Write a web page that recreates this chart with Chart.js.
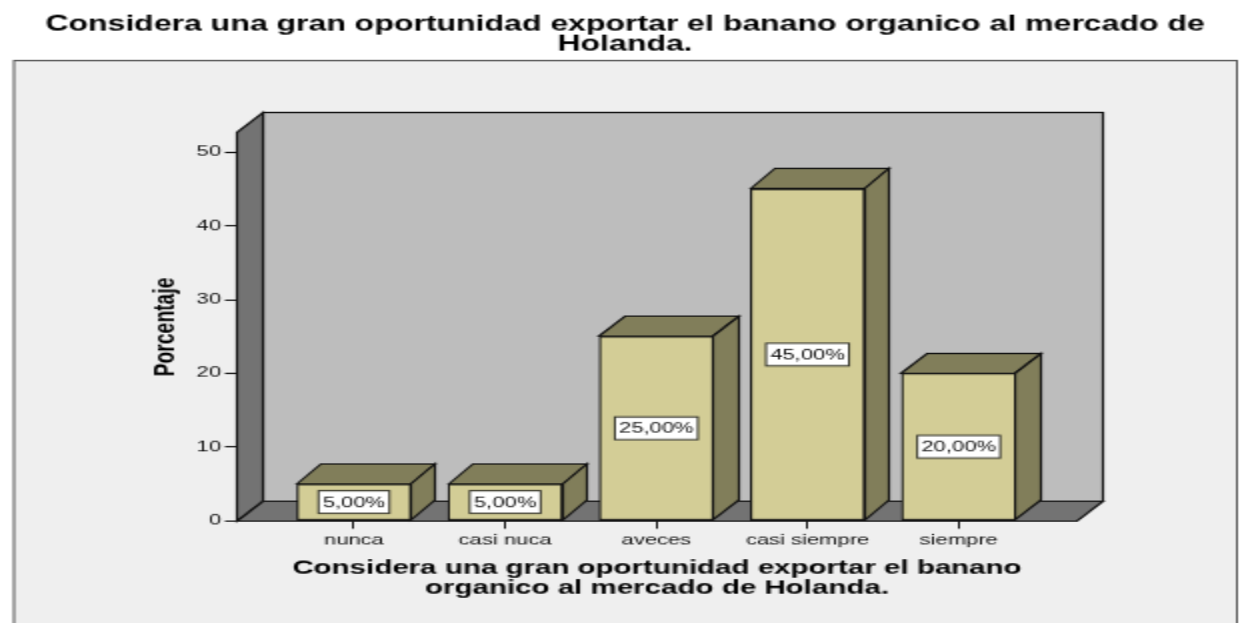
<!DOCTYPE html>
<html><head><meta charset="utf-8">
<style>
html,body{margin:0;padding:0;background:#fff;overflow:hidden}
#wrap{width:1240px;height:623px;overflow:hidden}
canvas{display:block;width:1240px!important;height:623px!important}
</style>
<script src="https://cdn.jsdelivr.net/npm/chart.js@4/dist/chart.umd.min.js"></script>
</head><body><div id="wrap"><canvas id="c" width="620" height="468"></canvas></div>
<script>
const categories = ['nunca','casi nuca','aveces','casi siempre','siempre'];
const percentages = [5,5,25,45,20];
const yTicks = [0,10,20,30,40,50];
const titleLines = ['Considera una gran oportunidad exportar el banano organico al mercado de','Holanda.'];
const xTitleLines = ['Considera una gran oportunidad exportar el banano','organico al mercado de Holanda.'];
const yTitle = 'Porcentaje';

const DX = 12.5, DY = 15;
const LINE = '#141414', WALL = '#737373', BACK = '#bdbdbd', PANEL = '#efefef',
      FRONT = '#d3cd96', SIDE = '#817e5a';
const FONT = '"Liberation Sans", Arial, sans-serif';
const snap = v => Math.floor(v)+0.5;

function poly(ctx, pts, fill){
  ctx.beginPath();
  pts.forEach((p,i)=> i?ctx.lineTo(snap(p[0]),snap(p[1])):ctx.moveTo(snap(p[0]),snap(p[1])));
  ctx.closePath();
  ctx.fillStyle = fill; ctx.fill();
  ctx.strokeStyle = LINE; ctx.lineWidth = 1.2; ctx.stroke();
}
const scene = {
  id:'scene',
  afterLayout(chart){
    const t = chart.titleBlock;
    t.left = 0; t.right = 625;
  },
  beforeDraw(chart){
    const ctx = chart.ctx, {left,right,top,bottom} = chart.chartArea;
    ctx.save();
    ctx.fillStyle = PANEL; ctx.fillRect(7,45.5,611.5,440);
    ctx.strokeStyle = '#555'; ctx.lineWidth = 1; ctx.strokeRect(7,45.5,611.5,440);
    poly(ctx,[[left+DX,top-DY],[right+DX,top-DY],[right+DX,bottom-DY],[left+DX,bottom-DY]],BACK);
    poly(ctx,[[left,top],[left+DX,top-DY],[left+DX,bottom-DY],[left,bottom]],WALL);
    poly(ctx,[[left,bottom],[left+DX,bottom-DY],[right+DX,bottom-DY],[right,bottom]],WALL);
    ctx.restore();
  },
  beforeDatasetsDraw(chart){
    const ctx = chart.ctx;
    ctx.save();
    chart.getDatasetMeta(0).data.forEach(b=>{
      const l=b.x-b.width/2, r=b.x+b.width/2, t=b.y, bt=b.base;
      poly(ctx,[[l,t],[l+DX,t-DY],[r+DX,t-DY],[r,t]],SIDE);
      poly(ctx,[[r,t],[r+DX,t-DY],[r+DX,bt-DY],[r,bt]],SIDE);
    });
    ctx.restore();
  },
  afterDatasetsDraw(chart){
    const ctx = chart.ctx;
    ctx.save();
    ctx.font = '11px '+FONT; ctx.textAlign='center'; ctx.textBaseline='middle';
    chart.getDatasetMeta(0).data.forEach((b,i)=>{
      const txt = percentages[i].toFixed(2).replace('.',',')+'%';
      const cy=(b.y+b.base)/2, w=Math.round(ctx.measureText(txt).width)+4.5, h=17;
      ctx.fillStyle='#fff'; ctx.fillRect(b.x-w/2,cy-h/2,w,h);
      ctx.strokeStyle='#33332a'; ctx.lineWidth=1; ctx.strokeRect(b.x-w/2,cy-h/2,w,h);
      ctx.fillStyle='#111';
      ctx.fillText(txt,b.x,cy+0.5);
    });
    ctx.restore();
  }
};

new Chart(document.getElementById('c'),{
  type:'bar',
  plugins:[scene],
  data:{datasets:[{
    data:percentages.map((v,i)=>({x:i,y:v})),
    backgroundColor:FRONT,borderColor:LINE,borderWidth:1.2,borderSkipped:false,
    barThickness:57
  }]},
  options:{
    responsive:false,animation:false,devicePixelRatio:1,
    layout:{padding:{left:0,right:81.5,top:0,bottom:16.8}},
    plugins:{
      legend:{display:false},tooltip:{enabled:false},
      title:{display:true,text:titleLines,color:'#000',
        font:{family:FONT,size:16,weight:'bold',lineHeight:0.94},
        padding:{top:11.5,bottom:58.4}}
    },
    scales:{
      x:{type:'linear',min:-0.7738,max:4.782,offset:false,
        afterFit(s){s.height=60;},
        grid:{display:true,offset:false,drawOnChartArea:false,drawTicks:true,tickLength:6,tickColor:LINE},
        border:{display:false},
        afterBuildTicks(s){s.ticks=categories.map((_,i)=>({value:i}));},
        ticks:{autoSkip:false,maxRotation:0,padding:2,color:'#111',font:{family:FONT,size:11},
          callback:v=>categories[v]},
        title:{display:true,text:xTitleLines,color:'#000',
          font:{family:FONT,size:14.75,weight:'bold',lineHeight:1.02},padding:{top:6,bottom:1.5}}
      },
      y:{min:0,max:52.58,
        afterFit(s){s.width=118.5;},
        afterBuildTicks(s){s.ticks=yTicks.map(v=>({value:v}));},
        grid:{display:true,drawOnChartArea:false,drawTicks:true,tickLength:6,tickColor:LINE},
        border:{display:false},
        ticks:{padding:2,color:'#111',font:{family:FONT,size:11}},
        title:{display:true,text:yTitle,color:'#000',
          font:{family:FONT,size:14.5,weight:'bold'},padding:{top:74.5,bottom:0}}
      }
    }
  }
});
</script></body></html>
